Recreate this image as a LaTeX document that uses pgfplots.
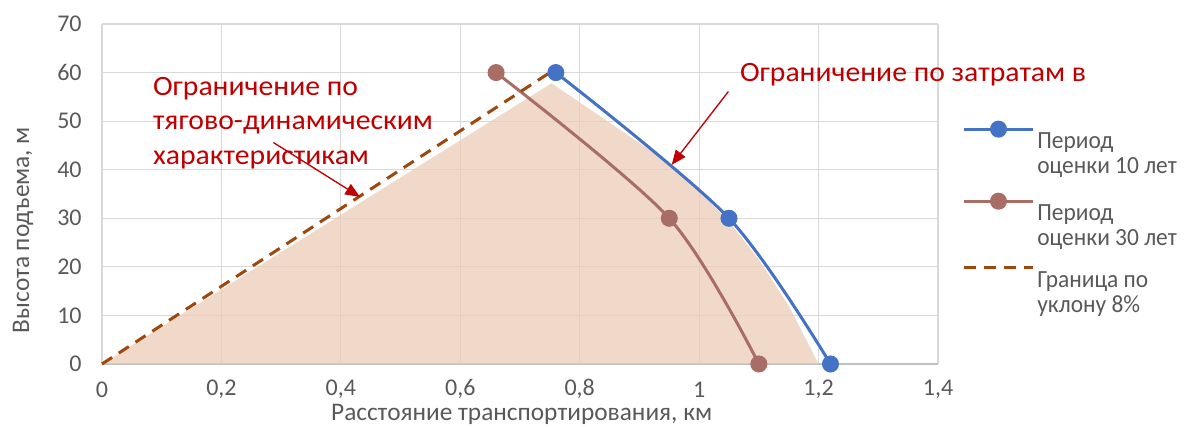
\documentclass[border=0pt]{standalone}
\usepackage{pgfplots}
\pgfplotsset{compat=1.18}
\usepackage{fontspec}
\setmainfont{Carlito}
\newfontfamily\redfont{Carlito}[FakeStretch=1.06]
\newfontfamily\legfont{Carlito}[FakeStretch=0.95]
\usetikzlibrary{arrows.meta}
\definecolor{cblue}{RGB}{68,114,196}
\definecolor{cbrown}{RGB}{168,110,102}
\definecolor{cdash}{RGB}{158,72,14}
\definecolor{cfill}{RGB}{235,204,183}
\definecolor{cgrid}{RGB}{217,217,217}
\definecolor{caxis}{RGB}{191,191,191}
\definecolor{ctext}{RGB}{89,89,89}
\definecolor{cred}{RGB}{192,0,0}
\begin{document}
\begin{tikzpicture}
\path[use as bounding box] (-76.5pt,-47.25pt) rectangle (813pt,273pt);
\begin{axis}[
  at={(0,0)}, anchor=south west,
  scale only axis, width=627pt, height=255pt,
  xmin=0, xmax=1.4, ymin=0, ymax=70,
  xtick={0,0.2,0.4,0.6,0.8,1,1.2,1.4},
  ytick={0,10,20,30,40,50,60,70},
  /pgf/number format/use comma,
  /pgf/number format/assume math mode=true,
  grid=major,
  major grid style={draw=cgrid, line width=0.9pt},
  axis x line*=bottom, axis y line*=left,
  x axis line style={draw=caxis, line width=0.9pt, -},
  y axis line style={draw=none},
  major tick length=0pt,
  tick style={draw=none},
  ticklabel style={font=\fontsize{18}{20}\selectfont, text=ctext},
  xticklabel style={anchor=center, yshift=-19pt, inner sep=0pt},
  yticklabel style={xshift=-11.75pt},
  xlabel={Расстояние транспортирования, км},
  ylabel={Высота подъема, м},
  label style={font=\fontsize{19}{22}\selectfont, text=ctext, inner sep=0pt},
  xlabel style={at={(axis description cs:0.502,-0.149)}, anchor=center},
  ylabel style={at={(axis description cs:-0.0945,0.394)}, anchor=center},
  clip=false,
  legend style={at={(rel axis cs:1.024,0.72)}, anchor=north west, draw=none, fill=none,
    font=\legfont\fontsize{18.5}{18.75}\selectfont, text=ctext, row sep=12pt,
    cells={anchor=west, align=left}},
  legend image code/.code={\draw[mark repeat=2,mark phase=2,yshift=18.75pt,#1] plot coordinates {(0pt,0pt) (26pt,0pt) (52pt,0pt)};},
]
\addplot[draw=none, fill=cfill, fill opacity=0.75, forget plot] coordinates {
  (0,0) (0.753,57.8) (0.93,43) (1.0,35.6) (1.05,29.3) (1.1,21.5) (1.15,12) (1.2,0)} -- cycle;
\addplot[cblue, line width=2.25pt, smooth, tension=0.5, mark=*, mark size=5.25pt, mark options={fill=cblue, draw=none}]
  coordinates {(0.76,60) (1.05,30) (1.22,0)};
\addlegendentry{Период\\оценки 10 лет}
\addplot[cbrown, line width=2.25pt, smooth, tension=0.5, mark=*, mark size=5.25pt, mark options={fill=cbrown, draw=none}]
  coordinates {(0.66,60) (0.95,30) (1.10,0)};
\addlegendentry{Период\\оценки 30 лет}
\addplot[cdash, line width=2.25pt, dash pattern=on 9pt off 6pt]
  coordinates {(0,0) (0.75,60)};
\addlegendentry{Граница по\\уклону 8\%}
\node[text=cred, font=\redfont\fontsize{21}{26}\selectfont, align=left, anchor=west, inner sep=0pt] at (axis cs:0.085,49.6)
  {Ограничение по\\тягово-динамическим\\характеристикам};
\node[text=cred, font=\redfont\fontsize{21}{26}\selectfont, anchor=west, inner sep=0pt] at (axis cs:1.068,59.5)
  {Ограничение по затратам в};
\draw[cred, line width=1pt, -{Triangle[length=11pt,width=9pt]}] (axis cs:0.287,45.6) -- (axis cs:0.432,34.4);
\draw[cred, line width=1pt, -{Triangle[length=11pt,width=9pt]}] (axis cs:1.049,56.1) -- (axis cs:0.954,41.0);
\end{axis}
\end{tikzpicture}
\end{document}
